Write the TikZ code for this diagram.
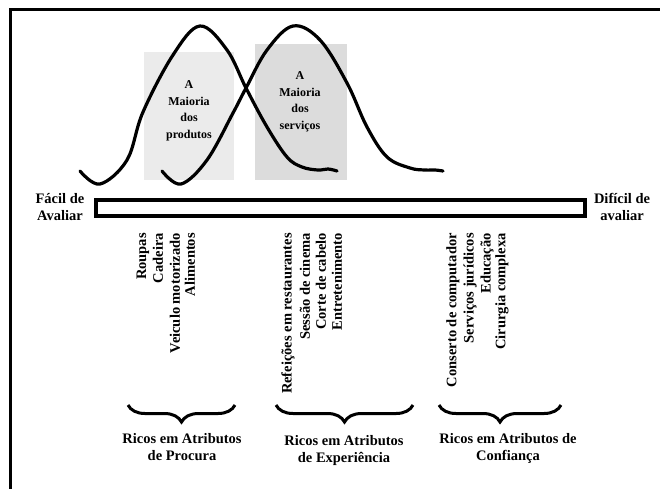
\documentclass[tikz,border=0pt]{standalone}
\usepackage{fontspec}
\setmainfont{Liberation Serif}
\usetikzlibrary{decorations.pathreplacing}
\definecolor{shadeA}{HTML}{EBEBEB}
\definecolor{shadeB}{HTML}{DCDCDC}
\begin{document}
\begin{tikzpicture}[x=1pt,y=-1pt,
  lbl/.style={font=\bfseries\fontsize{14.5}{17}\selectfont, align=center, inner sep=0pt},
  boxtxt/.style={font=\bfseries\fontsize{12}{16.5}\selectfont, align=center, inner sep=0pt},
  vlbl/.style={font=\bfseries\fontsize{14.5}{16}\selectfont, rotate=90, anchor=east, inner sep=0pt},
  curve/.style={line width=3.2pt, line cap=round, line join=round},
  bracket/.style={decorate, decoration={brace, mirror, amplitude=17pt}, line width=3pt},
  scalebar/.style={draw, line width=3.2pt, minimum width=489pt, minimum height=16pt, inner sep=0pt},
]
\useasboundingbox (0,0) rectangle (660,488);
\clip (0,0) rectangle (660,488);

% outer frame
\draw[line width=3pt] (10,500) -- (10,9) -- (670,9);

% shaded regions
\fill[shadeA] (144,52) rectangle (234,180);
\fill[shadeB] (255,44) rectangle (347,180);

\node[boxtxt] (prod) at (189,111) {A\\Maioria\\dos\\produtos};
\node[boxtxt] (serv) at (300,102) {A\\Maioria\\dos\\serviços};

% distribution curves
\draw[curve] plot[smooth, tension=0.6] coordinates {
  (80,171) (100,184) (127,160) (143,112) (173,55) (200,26) (227,50)
  (246,88) (267,127) (287,157) (302,167) (318,170) (328,169) (337,171)};
\draw[curve] plot[smooth, tension=0.6] coordinates {
  (162,171) (181,184) (207,160) (233,113) (246,88) (267,50) (293,26)
  (320,40) (347,83) (367,127) (387,157) (410,168) (425,170) (435,170) (443,171)};

% evaluation scale
\node[scalebar] (scale) at (340.5,208) {};
\node[lbl] (easy) at (60,207) {Fácil de\\Avaliar};
\node[lbl] (hard) at (622,207) {Difícil de\\avaliar};

% examples
\node[vlbl] (r1) at (143,233) {Roupas};
\node[vlbl] (r2) at (158,233) {Cadeira};
\node[vlbl] (r3) at (175,233) {Veiculo motorizado};
\node[vlbl] (r4) at (190,233) {Alimentos};

\node[vlbl] (e1) at (288,233) {Refeições em restaurantes};
\node[vlbl] (e2) at (305,233) {Sessão de cinema};
\node[vlbl] (e3) at (321,233) {Corte de cabelo};
\node[vlbl] (e4) at (337,233) {Entretenimento};

\node[vlbl] (c1) at (453,233) {Conserto de computador};
\node[vlbl] (c2) at (470,233) {Serviços jurídicos};
\node[vlbl] (c3) at (487,233) {Educação};
\node[vlbl] (c4) at (502,233) {Cirurgia complexa};

% groupings
\coordinate (b1l) at (128,405); \coordinate (b1r) at (235,405);
\coordinate (b2l) at (276,405); \coordinate (b2r) at (413,405);
\coordinate (b3l) at (439,405); \coordinate (b3r) at (561,405);
\draw[bracket] (b1l) -- (b1r);
\draw[bracket] (b2l) -- (b2r);
\draw[bracket] (b3l) -- (b3r);

\node[lbl] (g1) at (182,447) {Ricos em Atributos\\de Procura};
\node[lbl] (g2) at (344,451) {Ricos em Atributos\\de Experiência};
\node[lbl] (g3) at (508,448) {Ricos em Atributos de\\Confiança};
\end{tikzpicture}
\end{document}
